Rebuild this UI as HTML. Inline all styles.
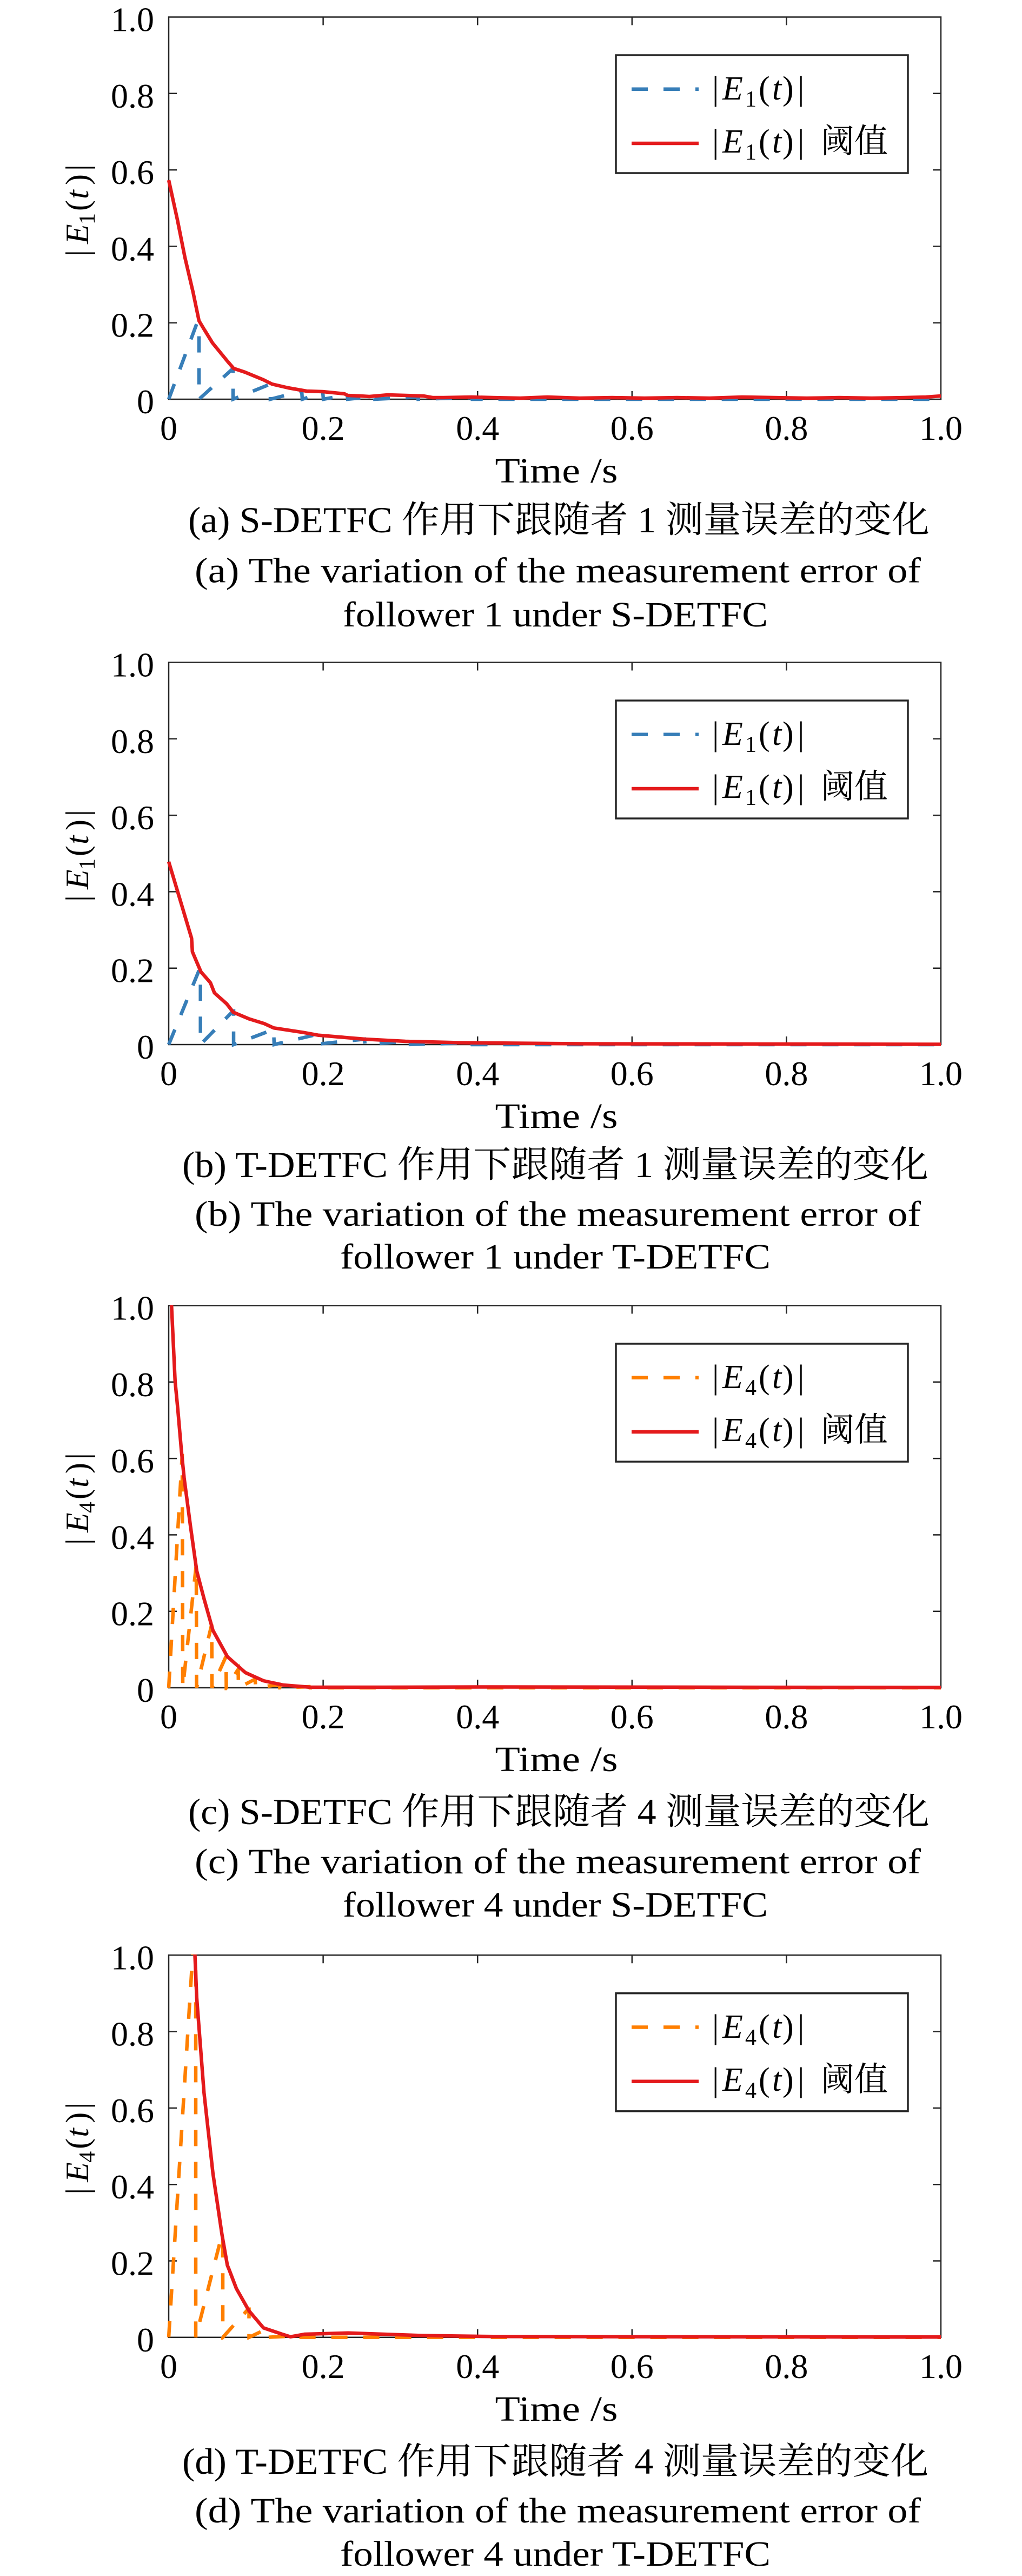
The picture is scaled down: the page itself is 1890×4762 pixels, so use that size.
<!DOCTYPE html>
<html>
<head>
<meta charset="utf-8">
<style>
html,body{margin:0;padding:0;background:#fff;}
svg{display:block;}
.num{font-family:"Liberation Serif","DejaVu Serif",serif;font-size:64px;fill:#000;}
.lab{font-family:"Liberation Serif","DejaVu Serif",serif;font-size:66px;fill:#000;}
.math{font-family:"Liberation Serif","DejaVu Serif",serif;fill:#000;}
.cap1{font-family:"Liberation Serif","Noto Serif CJK SC",serif;font-size:68px;fill:#000;}
.cap2{font-family:"Liberation Serif","Noto Serif CJK SC",serif;font-size:66px;fill:#000;}
.cjk{font-family:"Noto Serif CJK SC","Noto Sans CJK SC",serif;fill:#000;}
</style>
</head>
<body>
<svg width="1890" height="4762" viewBox="0 0 1890 4762" xmlns="http://www.w3.org/2000/svg">
<defs>
<clipPath id="pc" clipPathUnits="userSpaceOnUse"><rect x="-4" y="-707.5" width="1436" height="712"/></clipPath>
</defs>
<rect x="0" y="0" width="1890" height="4762" fill="#fff"/>

<!-- ============ PANEL A ============ -->
<g transform="translate(312,738)">
  <rect x="0" y="-706.5" width="1428" height="706.5" fill="none" stroke="#262626" stroke-width="2.5"/>
  <path d="M285.6,0v-15M571.2,0v-15M856.8,0v-15M1142.4,0v-15M285.6,-706.5v15M571.2,-706.5v15M856.8,-706.5v15M1142.4,-706.5v15M0,-141.3h15M0,-282.6h15M0,-423.9h15M0,-565.2h15M1428,-141.3h-15M1428,-282.6h-15M1428,-423.9h-15M1428,-565.2h-15" stroke="#262626" stroke-width="2.5" fill="none"/>
  <g class="num" text-anchor="end">
    <text x="-27" y="26">0</text><text x="-27" y="-115.3">0.2</text><text x="-27" y="-256.6">0.4</text><text x="-27" y="-397.9">0.6</text><text x="-27" y="-539.2">0.8</text><text x="-27" y="-680.5">1.0</text>
  </g>
  <g class="num" text-anchor="middle">
    <text x="0" y="75">0</text><text x="285.6" y="75">0.2</text><text x="571.2" y="75">0.4</text><text x="856.8" y="75">0.6</text><text x="1142.4" y="75">0.8</text><text x="1428" y="75">1.0</text>
  </g>
  <text class="lab" x="717" y="154" text-anchor="middle" textLength="227" lengthAdjust="spacingAndGlyphs">Time /s</text>
  <g transform="translate(-149,-350) rotate(-90)" class="math" font-size="60">
    <text x="-86" y="0">|</text><text x="-63" y="0" font-style="italic">E</text><text x="-27" y="12" font-size="42">1</text><text x="-2" y="0">(</text><text x="20" y="0" font-style="italic">t</text><text x="46" y="0">)</text><text x="72" y="0">|</text>
  </g>
  <g clip-path="url(#pc)" fill="none" stroke-width="6.5">
    <path d="M0,0 L52,-140 L56,-140 L56,0 L117,-55 L119,-55 L119,0 L188,-28 L188,0 L246,-15 L247,0 L285,-12 L286,0 L330,-8 L331,0 L380,-5 L381,0 L460,-4 L461,0 L560,-3 L561,0 L1428,0" stroke="#377eb8" stroke-dasharray="30 29"/>
    <path d="M0,-405 L16,-332 L30,-262 L45,-198 L56,-145 L65,-130 L81,-104 L108,-71 L120,-57 L141,-50 L175,-36 L191,-28 L221,-21 L255,-15 L285,-14 L325,-10 L331,-7 L355,-6 L371,-5 L405,-8 L471,-6 L488,-3 L508,-3 L560,-4 L600,-3 L650,-2 L700,-4 L760,-2 L820,-3 L880,-2 L940,-3 L1000,-2 L1060,-4 L1120,-3 L1180,-2 L1240,-3 L1300,-2 L1360,-3 L1400,-4 L1428,-6" stroke="#e41a1c" stroke-linejoin="round"/>
  </g>
  <rect x="827" y="-636" width="540" height="218" fill="#fff" stroke="#262626" stroke-width="3.5"/>
  <path d="M856,-573.3H980" stroke="#377eb8" stroke-width="6.5" stroke-dasharray="30 29"/>
  <path d="M856,-473H980" stroke="#e41a1c" stroke-width="6.5"/>
  <g class="math" font-size="62">
    <text x="1005" y="-554">|</text><text x="1024" y="-554" font-style="italic">E</text><text x="1066" y="-541" font-size="42">1</text><text x="1091" y="-554">(</text><text x="1116" y="-554" font-style="italic">t</text><text x="1135" y="-554">)</text><text x="1163" y="-554">|</text>
    <text x="1005" y="-456">|</text><text x="1024" y="-456" font-style="italic">E</text><text x="1066" y="-443" font-size="42">1</text><text x="1091" y="-456">(</text><text x="1116" y="-456" font-style="italic">t</text><text x="1135" y="-456">)</text><text x="1163" y="-456">|</text>
  </g>
  <text class="cjk" x="1206" y="-456" font-size="62" textLength="124" lengthAdjust="spacingAndGlyphs">阈值</text>
</g>
<text class="cap1" x="348" y="984" textLength="1371" lengthAdjust="spacingAndGlyphs">(a) S-DETFC 作用下跟随者 1 测量误差的变化</text>
<text class="cap2" x="360" y="1076.5" textLength="1343" lengthAdjust="spacingAndGlyphs">(a) The variation of the measurement error of</text>
<text class="cap2" x="634" y="1158" textLength="786" lengthAdjust="spacingAndGlyphs">follower 1 under S-DETFC</text>

<!-- ============ PANEL B ============ -->
<g transform="translate(312,1931)">
  <rect x="0" y="-706.5" width="1428" height="706.5" fill="none" stroke="#262626" stroke-width="2.5"/>
  <path d="M285.6,0v-15M571.2,0v-15M856.8,0v-15M1142.4,0v-15M285.6,-706.5v15M571.2,-706.5v15M856.8,-706.5v15M1142.4,-706.5v15M0,-141.3h15M0,-282.6h15M0,-423.9h15M0,-565.2h15M1428,-141.3h-15M1428,-282.6h-15M1428,-423.9h-15M1428,-565.2h-15" stroke="#262626" stroke-width="2.5" fill="none"/>
  <g class="num" text-anchor="end">
    <text x="-27" y="26">0</text><text x="-27" y="-115.3">0.2</text><text x="-27" y="-256.6">0.4</text><text x="-27" y="-397.9">0.6</text><text x="-27" y="-539.2">0.8</text><text x="-27" y="-680.5">1.0</text>
  </g>
  <g class="num" text-anchor="middle">
    <text x="0" y="75">0</text><text x="285.6" y="75">0.2</text><text x="571.2" y="75">0.4</text><text x="856.8" y="75">0.6</text><text x="1142.4" y="75">0.8</text><text x="1428" y="75">1.0</text>
  </g>
  <text class="lab" x="717" y="154" text-anchor="middle" textLength="227" lengthAdjust="spacingAndGlyphs">Time /s</text>
  <g transform="translate(-149,-350) rotate(-90)" class="math" font-size="60">
    <text x="-86" y="0">|</text><text x="-63" y="0" font-style="italic">E</text><text x="-27" y="12" font-size="42">1</text><text x="-2" y="0">(</text><text x="20" y="0" font-style="italic">t</text><text x="46" y="0">)</text><text x="72" y="0">|</text>
  </g>
  <g clip-path="url(#pc)" fill="none" stroke-width="6.5">
    <path d="M0,0 L56,-137 L58.7,-137 L58.7,0 L119,-62 L120,-62 L120,0 L194,-28 L195,0 L267,-17 L268,0 L362,-10 L363,0 L440,-6 L441,0 L560,-3 L561,0 L1428,0" stroke="#377eb8" stroke-dasharray="30 29"/>
    <path d="M0,-338 L42.3,-196.5 L43.8,-171.6 L52.2,-151.7 L59.7,-134.3 L77.1,-114.4 L84.6,-95.5 L107,-75.6 L119.4,-59.7 L149.2,-47.3 L176.6,-38.8 L194,-30.8 L248.7,-22.4 L276,-17.4 L363,-10 L437.7,-6 L537,-3.5 L766,-1.5 L1428,-0.5" stroke="#e41a1c" stroke-linejoin="round"/>
  </g>
  <rect x="827" y="-636" width="540" height="218" fill="#fff" stroke="#262626" stroke-width="3.5"/>
  <path d="M856,-573.3H980" stroke="#377eb8" stroke-width="6.5" stroke-dasharray="30 29"/>
  <path d="M856,-473H980" stroke="#e41a1c" stroke-width="6.5"/>
  <g class="math" font-size="62">
    <text x="1005" y="-554">|</text><text x="1024" y="-554" font-style="italic">E</text><text x="1066" y="-541" font-size="42">1</text><text x="1091" y="-554">(</text><text x="1116" y="-554" font-style="italic">t</text><text x="1135" y="-554">)</text><text x="1163" y="-554">|</text>
    <text x="1005" y="-456">|</text><text x="1024" y="-456" font-style="italic">E</text><text x="1066" y="-443" font-size="42">1</text><text x="1091" y="-456">(</text><text x="1116" y="-456" font-style="italic">t</text><text x="1135" y="-456">)</text><text x="1163" y="-456">|</text>
  </g>
  <text class="cjk" x="1206" y="-456" font-size="62" textLength="124" lengthAdjust="spacingAndGlyphs">阈值</text>
</g>
<text class="cap1" x="337" y="2176" textLength="1380" lengthAdjust="spacingAndGlyphs">(b) T-DETFC 作用下跟随者 1 测量误差的变化</text>
<text class="cap2" x="360" y="2266" textLength="1343" lengthAdjust="spacingAndGlyphs">(b) The variation of the measurement error of</text>
<text class="cap2" x="629" y="2345" textLength="796" lengthAdjust="spacingAndGlyphs">follower 1 under T-DETFC</text>

<!-- ============ PANEL C ============ -->
<g transform="translate(312,3120)">
  <rect x="0" y="-706.5" width="1428" height="706.5" fill="none" stroke="#262626" stroke-width="2.5"/>
  <path d="M285.6,0v-15M571.2,0v-15M856.8,0v-15M1142.4,0v-15M285.6,-706.5v15M571.2,-706.5v15M856.8,-706.5v15M1142.4,-706.5v15M0,-141.3h15M0,-282.6h15M0,-423.9h15M0,-565.2h15M1428,-141.3h-15M1428,-282.6h-15M1428,-423.9h-15M1428,-565.2h-15" stroke="#262626" stroke-width="2.5" fill="none"/>
  <g class="num" text-anchor="end">
    <text x="-27" y="26">0</text><text x="-27" y="-115.3">0.2</text><text x="-27" y="-256.6">0.4</text><text x="-27" y="-397.9">0.6</text><text x="-27" y="-539.2">0.8</text><text x="-27" y="-680.5">1.0</text>
  </g>
  <g class="num" text-anchor="middle">
    <text x="0" y="75">0</text><text x="285.6" y="75">0.2</text><text x="571.2" y="75">0.4</text><text x="856.8" y="75">0.6</text><text x="1142.4" y="75">0.8</text><text x="1428" y="75">1.0</text>
  </g>
  <text class="lab" x="717" y="154" text-anchor="middle" textLength="227" lengthAdjust="spacingAndGlyphs">Time /s</text>
  <g transform="translate(-149,-350) rotate(-90)" class="math" font-size="60">
    <text x="-86" y="0">|</text><text x="-63" y="0" font-style="italic">E</text><text x="-27" y="12" font-size="42">4</text><text x="-2" y="0">(</text><text x="20" y="0" font-style="italic">t</text><text x="46" y="0">)</text><text x="72" y="0">|</text>
  </g>
  <g clip-path="url(#pc)" fill="none" stroke-width="6.5">
    <path d="M0,0 L25,-432 L26,0 L51,-228 L51.5,0 L79.5,-117 L80,0 L106,-58 L106.5,0 L128.5,-34 L129,0 L160,-16 L160.5,0 L205,-6 L205.5,0 L260,-2 L261,0 L1428,0" stroke="#ff7f00" stroke-dasharray="30 29"/>
    <path d="M0,-816 L5.2,-706.6 L11.8,-567 L16.8,-515 L23.5,-438 L28.5,-388 L40.2,-299 L51.8,-216 L65.2,-165 L81.8,-106 L108.5,-57.5 L141.8,-28 L175,-13 L188.5,-10 L212,-5 L262,-1 L400,-1 L600,-1.5 L1428,-0.5" stroke="#e41a1c" stroke-linejoin="round"/>
  </g>
  <rect x="827" y="-636" width="540" height="218" fill="#fff" stroke="#262626" stroke-width="3.5"/>
  <path d="M856,-573.3H980" stroke="#ff7f00" stroke-width="6.5" stroke-dasharray="30 29"/>
  <path d="M856,-473H980" stroke="#e41a1c" stroke-width="6.5"/>
  <g class="math" font-size="62">
    <text x="1005" y="-554">|</text><text x="1024" y="-554" font-style="italic">E</text><text x="1066" y="-541" font-size="42">4</text><text x="1091" y="-554">(</text><text x="1116" y="-554" font-style="italic">t</text><text x="1135" y="-554">)</text><text x="1163" y="-554">|</text>
    <text x="1005" y="-456">|</text><text x="1024" y="-456" font-style="italic">E</text><text x="1066" y="-443" font-size="42">4</text><text x="1091" y="-456">(</text><text x="1116" y="-456" font-style="italic">t</text><text x="1135" y="-456">)</text><text x="1163" y="-456">|</text>
  </g>
  <text class="cjk" x="1206" y="-456" font-size="62" textLength="124" lengthAdjust="spacingAndGlyphs">阈值</text>
</g>
<text class="cap1" x="348" y="3372" textLength="1371" lengthAdjust="spacingAndGlyphs">(c) S-DETFC 作用下跟随者 4 测量误差的变化</text>
<text class="cap2" x="360" y="3463" textLength="1343" lengthAdjust="spacingAndGlyphs">(c) The variation of the measurement error of</text>
<text class="cap2" x="634" y="3543" textLength="786" lengthAdjust="spacingAndGlyphs">follower 4 under S-DETFC</text>

<!-- ============ PANEL D ============ -->
<g transform="translate(312,4320.8)">
  <rect x="0" y="-706.5" width="1428" height="706.5" fill="none" stroke="#262626" stroke-width="2.5"/>
  <path d="M285.6,0v-15M571.2,0v-15M856.8,0v-15M1142.4,0v-15M285.6,-706.5v15M571.2,-706.5v15M856.8,-706.5v15M1142.4,-706.5v15M0,-141.3h15M0,-282.6h15M0,-423.9h15M0,-565.2h15M1428,-141.3h-15M1428,-282.6h-15M1428,-423.9h-15M1428,-565.2h-15" stroke="#262626" stroke-width="2.5" fill="none"/>
  <g class="num" text-anchor="end">
    <text x="-27" y="26">0</text><text x="-27" y="-115.3">0.2</text><text x="-27" y="-256.6">0.4</text><text x="-27" y="-397.9">0.6</text><text x="-27" y="-539.2">0.8</text><text x="-27" y="-680.5">1.0</text>
  </g>
  <g class="num" text-anchor="middle">
    <text x="0" y="75">0</text><text x="285.6" y="75">0.2</text><text x="571.2" y="75">0.4</text><text x="856.8" y="75">0.6</text><text x="1142.4" y="75">0.8</text><text x="1428" y="75">1.0</text>
  </g>
  <text class="lab" x="717" y="154" text-anchor="middle" textLength="227" lengthAdjust="spacingAndGlyphs">Time /s</text>
  <g transform="translate(-149,-350) rotate(-90)" class="math" font-size="60">
    <text x="-86" y="0">|</text><text x="-63" y="0" font-style="italic">E</text><text x="-27" y="12" font-size="42">4</text><text x="-2" y="0">(</text><text x="20" y="0" font-style="italic">t</text><text x="46" y="0">)</text><text x="72" y="0">|</text>
  </g>
  <g clip-path="url(#pc)" fill="none" stroke-width="6.5">
    <path d="M0,0 L47,-750 L50,-750 L50,0 L98,-188 L100,-188 L100,0 L147,-52 L148.5,-52 L148.5,0 L180,-15 L182,0 L240,-3 L241,0 L1428,0" stroke="#ff7f00" stroke-dasharray="30 29"/>
    <path d="M44,-820 L48.5,-706.8 L51.8,-627.7 L65.2,-453 L68.5,-423 L81.8,-303 L98.5,-190 L108.5,-133 L111.8,-125 L125.2,-90 L148.5,-49 L175.2,-17.5 L208.5,-6.2 L225.2,-1 L251.8,-5.8 L331.8,-8 L468.5,-3.3 L600,-1.5 L1428,-0.5" stroke="#e41a1c" stroke-linejoin="round"/>
  </g>
  <rect x="827" y="-636" width="540" height="218" fill="#fff" stroke="#262626" stroke-width="3.5"/>
  <path d="M856,-573.3H980" stroke="#ff7f00" stroke-width="6.5" stroke-dasharray="30 29"/>
  <path d="M856,-473H980" stroke="#e41a1c" stroke-width="6.5"/>
  <g class="math" font-size="62">
    <text x="1005" y="-554">|</text><text x="1024" y="-554" font-style="italic">E</text><text x="1066" y="-541" font-size="42">4</text><text x="1091" y="-554">(</text><text x="1116" y="-554" font-style="italic">t</text><text x="1135" y="-554">)</text><text x="1163" y="-554">|</text>
    <text x="1005" y="-456">|</text><text x="1024" y="-456" font-style="italic">E</text><text x="1066" y="-443" font-size="42">4</text><text x="1091" y="-456">(</text><text x="1116" y="-456" font-style="italic">t</text><text x="1135" y="-456">)</text><text x="1163" y="-456">|</text>
  </g>
  <text class="cjk" x="1206" y="-456" font-size="62" textLength="124" lengthAdjust="spacingAndGlyphs">阈值</text>
</g>
<text class="cap1" x="337" y="4573" textLength="1380" lengthAdjust="spacingAndGlyphs">(d) T-DETFC 作用下跟随者 4 测量误差的变化</text>
<text class="cap2" x="360" y="4663" textLength="1343" lengthAdjust="spacingAndGlyphs">(d) The variation of the measurement error of</text>
<text class="cap2" x="629" y="4743" textLength="796" lengthAdjust="spacingAndGlyphs">follower 4 under T-DETFC</text>
</svg>
</body>
</html>
